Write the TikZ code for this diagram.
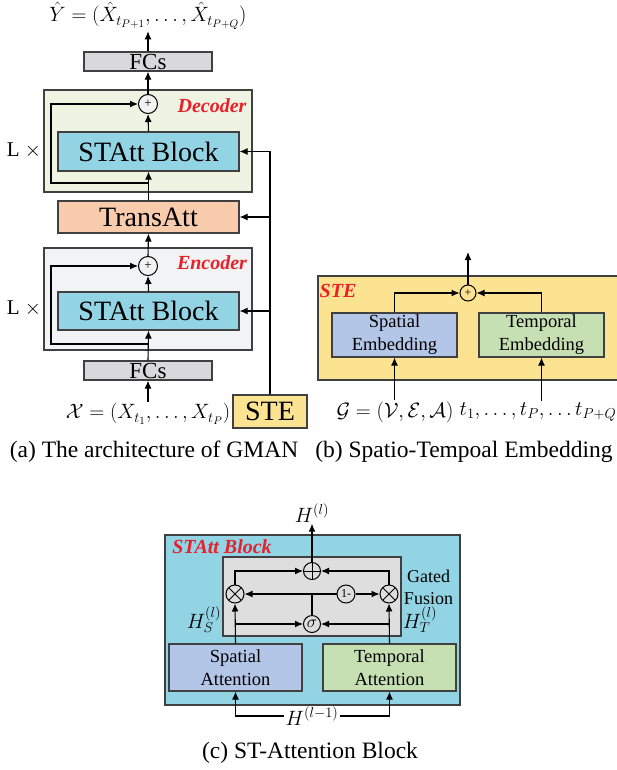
\documentclass[tikz,border=0pt]{standalone}
\usepackage{fontspec}
\setmainfont{Liberation Serif}
\usetikzlibrary{arrows.meta}

\definecolor{edgegray}{RGB}{64,64,64}
\definecolor{attblue}{RGB}{146,211,228}
\definecolor{decgreen}{RGB}{238,243,226}
\definecolor{encgray}{RGB}{242,243,244}
\definecolor{transorange}{RGB}{248,203,173}
\definecolor{fcgray}{RGB}{217,217,220}
\definecolor{steyellow}{RGB}{251,227,146}
\definecolor{spblue}{RGB}{180,198,231}
\definecolor{tpgreen}{RGB}{198,224,180}
\definecolor{fusegray}{RGB}{222,222,222}
\definecolor{labelred}{RGB}{232,32,42}

\tikzstyle{block} = [draw=edgegray,line width=1.2pt,inner sep=0pt,align=center]
\tikzstyle{bigtext} = [font=\fontsize{28}{30}\selectfont]
\tikzstyle{smalltext} = [font=\fontsize{18.5}{23}\selectfont]
\tikzstyle{sumnode} = [circle,draw=black,line width=1pt,inner sep=0pt,fill=white!90!gray]
\tikzstyle{crossnode} = [circle,draw=black,line width=1pt,inner sep=0pt,minimum size=18pt]
\tikzstyle{redlabel} = [text=labelred,font=\fontsize{20}{22}\selectfont\bfseries\itshape]
\tikzstyle{caption} = [font=\fontsize{23.5}{26}\selectfont]
\tikzstyle{mathlabel} = [font=\fontsize{21}{23}\selectfont,inner sep=1pt]
\tikzstyle{arrowline} = [-{Latex[length=8pt,width=7pt]}]

\begin{document}
\begin{tikzpicture}[x=1pt,y=-1pt,line width=1.1pt]
	\useasboundingbox[fill=white] (0,0) rectangle (616,770);
	% (a) GMAN
	\node[block,fill=decgreen,minimum width=208pt,minimum height=102pt] (dec) at (148,141) {};
	\node[block,fill=encgray,minimum width=208pt,minimum height=102pt] (enc) at (148,299) {};
	\node[mathlabel] (yhat) at (148,16) {$\hat{Y}=(\hat{X}_{t_{P+1}},\dots,\hat{X}_{t_{P+Q}})$};
	\node[block,fill=fcgray,minimum width=128pt,minimum height=19pt,font=\fontsize{23}{23}\selectfont] (fcsTop) at (148,61.5) {FCs};
	\node[sumnode,minimum size=19pt,font=\fontsize{13}{13}\selectfont] (plusDec) at (148,104) {+};
	\node[redlabel] (decLabel) at (212,106) {Decoder};
	\node[block,bigtext,fill=attblue,minimum width=181pt,minimum height=39pt] (blkDec) at (148.5,151.5) {STAtt Block};
	\node[font=\fontsize{21}{23}\selectfont] (lx1) at (24,150) {L $\times$};
	\node[block,bigtext,fill=transorange,minimum width=181pt,minimum height=32pt] (trans) at (148.5,217) {TransAtt};
	\node[sumnode,minimum size=19pt,font=\fontsize{13}{13}\selectfont] (plusEnc) at (148,266) {+};
	\node[redlabel] (encLabel) at (212,263) {Encoder};
	\node[block,bigtext,fill=attblue,minimum width=181pt,minimum height=38pt] (blkEnc) at (148.5,311) {STAtt Block};
	\node[font=\fontsize{21}{23}\selectfont] (lx2) at (24,308) {L $\times$};
	\node[block,fill=fcgray,minimum width=128pt,minimum height=19pt,font=\fontsize{23}{23}\selectfont] (fcsBot) at (148,370.5) {FCs};
	\node[mathlabel] (xin) at (148,414) {$\mathcal{X}=(X_{t_1},\dots,X_{t_P})$};
	\node[block,bigtext,fill=steyellow,minimum width=74pt,minimum height=33pt] (ste) at (270,411.5) {STE};
	\coordinate (decSplit) at (148,183);
	\coordinate (encSplit) at (148,344);
	\draw[arrowline] (fcsTop.north) -- (yhat.south);
	\draw[arrowline] (plusDec.north) -- (fcsTop.south);
	\draw[arrowline] (blkDec.north) -- (plusDec.south);
	\draw[arrowline] (trans.north) -- (blkDec.south);
	\draw[arrowline] (decSplit) -- ++(-97,0) |- (plusDec.west);
	\draw[arrowline] (plusEnc.north) -- (trans.south);
	\draw[arrowline] (blkEnc.north) -- (plusEnc.south);
	\draw[arrowline] (fcsBot.north) -- (blkEnc.south);
	\draw[arrowline] (encSplit) -- ++(-97,0) |- (plusEnc.west);
	\draw[arrowline] (xin.north) -- (fcsBot.south);
	\draw[arrowline] (ste.north) |- (blkDec.east);
	\draw[arrowline] (ste.north) |- (trans.east);
	\draw[arrowline] (ste.north) |- (blkEnc.east);
	% (b) STE
	\node[block,fill=steyellow,minimum width=300pt,minimum height=104pt] (steBox) at (468,328) {};
	\node[redlabel] (steLabel) at (338,291) {STE};
	\node[sumnode,minimum size=16pt,font=\fontsize{12}{12}\selectfont,fill=steyellow] (plusSte) at (468,293) {+};
	\coordinate (steOut) at (468,252);
	\node[block,smalltext,fill=spblue,minimum width=125pt,minimum height=44pt] (spEmb) at (394.5,335) {Spatial\\Embedding};
	\node[block,smalltext,fill=tpgreen,minimum width=125pt,minimum height=44pt] (tpEmb) at (541.5,335) {Temporal\\Embedding};
	\node[mathlabel,font=\fontsize{20}{22}\selectfont] (gIn) at (395,412) {$\mathcal{G}=(\mathcal{V},\mathcal{E},\mathcal{A})$};
	\node[mathlabel,font=\fontsize{20}{22}\selectfont] (tIn) at (538,412) {$t_1,\dots,t_P,\dots t_{P+Q}$};
	\draw[arrowline] (plusSte.north) -- (steOut);
	\draw[arrowline] (spEmb.north) |- (plusSte.west);
	\draw[arrowline] (tpEmb.north) |- (plusSte.east);
	\draw[arrowline] (spEmb.south |- gIn.north) -- (spEmb.south);
	\draw[arrowline] (tpEmb.south |- tIn.north) -- (tpEmb.south);
	\node[caption] (capA) at (154,452) {(a) The architecture of GMAN};
	\node[caption] (capB) at (464,452) {(b) Spatio-Tempoal Embedding};
	% (c) STAtt block
	\node[block,fill=attblue,minimum width=295pt,minimum height=170pt] (attBox) at (312.5,620) {};
	\node[redlabel] (attLabel) at (222,547) {STAtt Block};
	\node[block,fill=fusegray,minimum width=178pt,minimum height=79pt] (fuse) at (312,596.5) {};
	\node[crossnode,minimum size=17pt,fill=fusegray,path picture={\draw (path picture bounding box.north) -- (path picture bounding box.south) (path picture bounding box.west) -- (path picture bounding box.east);}] (plusAtt) at (312,571) {};
	\node[crossnode,fill=fusegray,path picture={\draw (path picture bounding box.north west) -- (path picture bounding box.south east) (path picture bounding box.south west) -- (path picture bounding box.north east);}] (otL) at (235,594) {};
	\node[crossnode,fill=fusegray,path picture={\draw (path picture bounding box.north west) -- (path picture bounding box.south east) (path picture bounding box.south west) -- (path picture bounding box.north east);}] (otR) at (389,594) {};
	\node[crossnode,fill=fusegray,font=\fontsize{12}{12}\selectfont] (oneMinus) at (346,594) {1-};
	\node[crossnode,minimum size=17pt,fill=fusegray,font=\fontsize{19}{19}\selectfont] (sigma) at (312,624) {$\sigma$};
	\node[font=\fontsize{18}{22}\selectfont,align=center] (gateLabel) at (428.5,587) {Gated\\Fusion};
	\node[block,smalltext,fill=spblue,minimum width=133pt,minimum height=47pt] (spAtt) at (235.5,667.5) {Spatial\\Attention};
	\node[block,smalltext,fill=tpgreen,minimum width=133pt,minimum height=47pt] (tpAtt) at (389.5,667.5) {Temporal\\Attention};
	\node[mathlabel] (hs) at (204,620) {$H_S^{(l)}$};
	\node[mathlabel] (ht) at (420,620) {$H_T^{(l)}$};
	\node[mathlabel] (hOut) at (312,513) {$H^{(l)}$};
	\node[mathlabel] (hPrev) at (312,716) {$H^{(l-1)}$};
	\draw[arrowline] (plusAtt.north) -- (hOut.south);
	\draw[arrowline] (spAtt.north) -- (otL.south);
	\draw[arrowline] (tpAtt.north) -- (otR.south);
	\draw[arrowline] (spAtt.north |- sigma.west) -- (sigma.west);
	\draw[arrowline] (tpAtt.north |- sigma.east) -- (sigma.east);
	\draw[arrowline] (otL.north) |- (plusAtt.west);
	\draw[arrowline] (otR.north) |- (plusAtt.east);
	\draw[arrowline] (sigma.north) |- (otL.east);
	\draw (sigma.north) |- (oneMinus.west);
	\draw[arrowline] (oneMinus.east) -- (otR.west);
	\draw[arrowline] (hPrev.west) -| (spAtt.south);
	\draw[arrowline] (hPrev.east) -| (tpAtt.south);
	\node[caption] (capC) at (310,753) {(c) ST-Attention Block};
\end{tikzpicture}
\end{document}
